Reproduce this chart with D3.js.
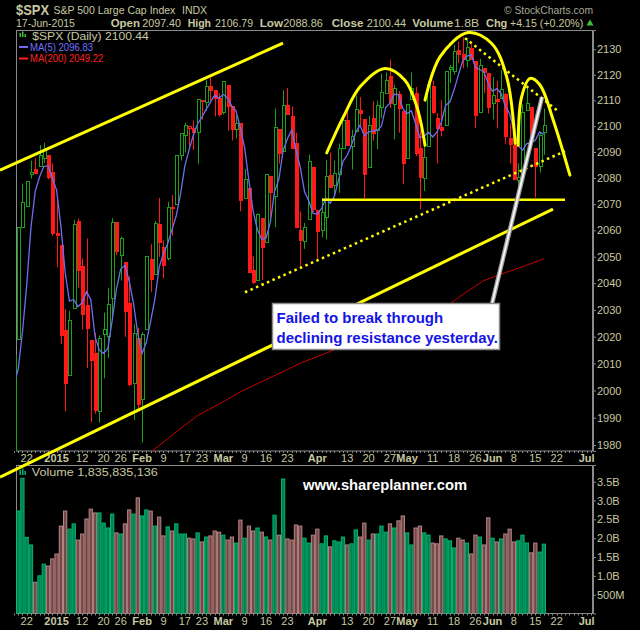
<!DOCTYPE html>
<html>
<head>
<meta charset="utf-8">
<script src="https://cdn.jsdelivr.net/npm/d3@7"></script>
<style>
  body { margin: 0; background: #000; }
  svg { display: block; }
  text { font-family: "Liberation Sans", Arial, sans-serif; }
</style>
</head>
<body>
<svg id="chart" width="640" height="630"></svg>
<script>
// trading days shown on the x axis (data runs to Jun 17, axis to Jul 2)
const calendar = [
  "2014-12-17","2014-12-18","2014-12-19","2014-12-22","2014-12-23","2014-12-24","2014-12-26","2014-12-29","2014-12-30","2014-12-31",
  "2015-01-02","2015-01-05","2015-01-06","2015-01-07","2015-01-08","2015-01-09","2015-01-12","2015-01-13","2015-01-14","2015-01-15",
  "2015-01-16","2015-01-20","2015-01-21","2015-01-22","2015-01-23","2015-01-26","2015-01-27","2015-01-28","2015-01-29","2015-01-30",
  "2015-02-02","2015-02-03","2015-02-04","2015-02-05","2015-02-06","2015-02-09","2015-02-10","2015-02-11","2015-02-12","2015-02-13",
  "2015-02-17","2015-02-18","2015-02-19","2015-02-20","2015-02-23","2015-02-24","2015-02-25","2015-02-26","2015-02-27",
  "2015-03-02","2015-03-03","2015-03-04","2015-03-05","2015-03-06","2015-03-09","2015-03-10","2015-03-11","2015-03-12","2015-03-13",
  "2015-03-16","2015-03-17","2015-03-18","2015-03-19","2015-03-20","2015-03-23","2015-03-24","2015-03-25","2015-03-26","2015-03-27",
  "2015-03-30","2015-03-31",
  "2015-04-01","2015-04-02","2015-04-06","2015-04-07","2015-04-08","2015-04-09","2015-04-10","2015-04-13","2015-04-14","2015-04-15",
  "2015-04-16","2015-04-17","2015-04-20","2015-04-21","2015-04-22","2015-04-23","2015-04-24","2015-04-27","2015-04-28","2015-04-29",
  "2015-04-30",
  "2015-05-01","2015-05-04","2015-05-05","2015-05-06","2015-05-07","2015-05-08","2015-05-11","2015-05-12","2015-05-13","2015-05-14",
  "2015-05-15","2015-05-18","2015-05-19","2015-05-20","2015-05-21","2015-05-22","2015-05-26","2015-05-27","2015-05-28","2015-05-29",
  "2015-06-01","2015-06-02","2015-06-03","2015-06-04","2015-06-05","2015-06-08","2015-06-09","2015-06-10","2015-06-11","2015-06-12",
  "2015-06-15","2015-06-16","2015-06-17","2015-06-18","2015-06-19","2015-06-22","2015-06-23","2015-06-24","2015-06-25","2015-06-26",
  "2015-06-29","2015-06-30","2015-07-01","2015-07-02"
]

// daily OHLC, Dec 17 2014 .. Jun 17 2015
const opens = [
  1973.77,2018.98,2061.04,2069.28,2081.48,2083.25,2084.30,2087.63,2088.49,2082.11,
  2058.90,2054.44,2022.15,2005.55,2030.61,2063.45,2046.13,2031.58,2018.40,2013.75,1992.25,2020.76,2020.19,2034.30,2062.98,2050.42,2047.86,2032.34,2002.45,2019.35,
  1996.67,2022.71,2048.86,2043.45,2062.28,2053.47,2049.38,2068.55,2069.98,2088.78,2096.47,2099.16,2099.25,2097.65,2109.83,2109.10,2115.30,2113.91,2110.88,
  2105.23,2115.76,2107.72,2098.54,2100.91,2072.25,2076.14,2044.69,2041.10,2064.56,2055.35,2080.59,2072.84,2098.69,2090.32,2107.99,2103.94,2093.10,2059.94,2055.78,2064.11,2084.05,
  2067.63,2060.03,2064.87,2080.79,2076.94,2081.29,2091.51,2102.03,2092.28,2097.82,2105.96,2102.58,2084.11,2102.82,2098.27,2107.21,2112.80,2119.29,2108.35,2112.49,2105.52,
  2087.38,2110.23,2112.63,2091.26,2079.96,2092.13,2115.56,2102.87,2099.62,2100.43,2122.07,2121.30,2129.45,2127.79,2125.55,2130.36,2125.34,2105.13,2122.27,2120.66,
  2108.64,2110.41,2110.64,2112.35,2095.09,2092.34,2079.07,2081.12,2106.24,2107.43,2091.34,2084.26,2097.40
]
const highs = [
  2016.75,2061.23,2077.85,2078.76,2086.73,2087.56,2092.70,2093.55,2088.49,2085.58,
  2072.36,2054.44,2030.25,2029.61,2064.08,2064.43,2049.30,2056.93,2018.40,2021.35,2020.46,2028.94,2038.29,2064.62,2062.98,2057.62,2047.86,2042.49,2024.64,2023.32,
  2021.66,2050.30,2054.74,2063.55,2072.40,2056.16,2070.86,2073.48,2088.53,2097.03,2101.30,2100.23,2102.13,2110.61,2110.05,2117.94,2119.59,2113.91,2112.74,
  2117.52,2115.76,2107.72,2104.25,2100.91,2083.49,2076.14,2050.08,2066.41,2064.56,2081.41,2080.59,2106.85,2098.69,2113.92,2114.86,2107.63,2097.43,2067.15,2062.83,2088.97,2084.05,
  2067.63,2072.17,2086.99,2089.81,2086.69,2093.31,2102.61,2107.65,2098.62,2111.91,2111.30,2102.58,2103.94,2109.64,2109.98,2120.49,2120.92,2125.92,2116.04,2113.65,2105.52,
  2108.41,2120.95,2115.24,2098.42,2092.90,2117.66,2117.69,2105.06,2110.19,2121.45,2123.89,2131.78,2133.02,2134.72,2134.28,2132.15,2125.34,2126.22,2122.27,2120.66,
  2119.15,2117.59,2121.92,2112.89,2100.99,2093.01,2085.62,2108.50,2115.02,2107.43,2091.34,2097.40,2106.79
]
const lows = [
  1973.77,2018.98,2061.03,2069.28,2079.77,2081.86,2084.30,2085.75,2079.53,2057.94,
  2046.04,2017.34,1992.44,2005.55,2030.61,2038.33,2022.58,2008.25,1988.44,1991.47,1988.12,2004.49,2012.04,2026.38,2050.54,2040.97,2019.91,2001.49,1989.18,1993.38,
  1980.90,2022.71,2036.72,2043.45,2049.97,2041.88,2048.62,2057.99,2069.98,2086.70,2089.80,2092.15,2090.79,2085.44,2102.54,2105.87,2109.89,2103.76,2103.75,
  2104.50,2098.26,2094.49,2095.22,2067.27,2072.21,2044.16,2039.69,2041.10,2041.17,2055.35,2065.08,2061.23,2085.56,2090.32,2104.42,2091.50,2061.05,2045.50,2052.96,2064.11,2067.04,
  2048.38,2057.32,2056.52,2076.10,2073.30,2074.29,2091.51,2092.33,2083.24,2097.82,2100.02,2072.37,2084.11,2094.38,2091.05,2103.19,2112.80,2107.04,2094.89,2097.41,2077.59,
  2087.38,2110.23,2088.46,2067.93,2074.99,2092.13,2104.58,2085.57,2096.04,2100.43,2116.81,2120.01,2124.50,2122.59,2122.95,2126.06,2099.18,2105.13,2112.86,2104.89,
  2102.54,2099.14,2110.64,2093.23,2085.67,2079.11,2072.14,2081.12,2106.24,2091.33,2072.49,2082.10,2088.86
]
const closes = [
  2012.89,2061.23,2070.65,2078.54,2082.17,2081.88,2088.77,2090.57,2080.35,2058.90,
  2058.20,2020.58,2002.61,2025.90,2062.14,2044.81,2028.26,2023.03,2011.27,1992.67,2019.42,2022.55,2032.12,2063.15,2051.82,2057.09,2029.55,2002.16,2021.25,1994.99,
  2020.85,2050.03,2041.51,2062.52,2055.47,2046.74,2068.59,2068.53,2088.48,2096.99,2100.34,2099.68,2097.45,2110.30,2109.66,2115.48,2113.86,2110.74,2104.50,
  2117.39,2107.78,2098.53,2101.04,2071.26,2079.43,2044.16,2040.24,2065.95,2053.40,2081.19,2074.28,2099.50,2089.27,2108.10,2104.42,2091.50,2061.05,2056.15,2061.02,2086.24,2067.89,
  2059.69,2066.96,2080.62,2076.33,2081.90,2091.18,2102.06,2092.43,2095.84,2106.63,2104.99,2081.18,2100.40,2097.29,2107.96,2112.93,2117.69,2108.92,2114.76,2106.85,2085.51,
  2108.29,2114.49,2089.46,2080.15,2088.00,2116.10,2105.33,2099.12,2098.48,2121.10,2122.73,2129.20,2127.83,2125.85,2130.82,2126.06,2104.20,2123.48,2120.79,2107.39,
  2111.73,2109.60,2114.07,2095.84,2092.83,2079.28,2080.15,2105.20,2108.86,2094.11,2084.43,2096.29,2100.44
]
// closes of Dec 11, 12, 15, 16 (needed for the first MA(5) values)
const priorCloses = [2035.33, 2002.33, 1989.63, 1972.74]

// volume in billions
const volumes = [
  2.30,2.72,3.59,2.02,1.82,0.83,1.00,1.31,1.26,1.45,
  1.58,2.32,2.72,2.24,2.38,1.95,2.11,2.51,2.77,2.67,2.67,2.40,2.27,2.64,2.14,2.11,2.38,2.75,2.64,3.07,
  2.59,2.75,2.72,2.32,2.56,2.06,2.30,2.19,2.38,2.11,2.11,2.00,1.98,2.14,1.90,2.03,2.06,2.19,2.16,
  2.08,1.95,2.03,1.87,2.48,2.00,2.32,2.19,2.27,2.16,2.03,1.95,2.61,2.08,3.57,1.98,1.95,2.35,2.32,2.00,1.87,2.08,
  2.24,1.85,2.06,1.77,1.93,1.90,2.03,1.82,1.85,2.22,2.03,2.40,1.95,2.11,2.11,2.32,2.16,2.38,2.27,2.46,2.59,
  2.14,1.82,2.27,2.32,2.14,2.08,1.87,1.85,2.06,1.98,1.93,1.74,2.00,1.95,1.87,1.58,2.08,2.03,1.82,2.54,
  2.00,1.90,1.98,2.11,2.24,1.90,1.93,2.08,1.87,1.61,1.87,1.63,1.84
]

// 200-day moving average
const ma200Dates = ["2015-01-28","2015-02-05","2015-02-12","2015-02-20","2015-02-27","2015-03-06","2015-03-13","2015-03-20","2015-03-26",
  "2015-04-06","2015-04-13","2015-04-20","2015-04-27","2015-05-04","2015-05-11","2015-05-15","2015-05-21","2015-05-28","2015-06-03","2015-06-10","2015-06-17"]
const ma200Vals = [1972.0,1978.6,1984.8,1990.8,1995.0,1999.5,2003.3,2007.0,2010.1,
  2013.8,2017.2,2020.1,2023.4,2026.6,2029.5,2032.2,2036.8,2041.0,2043.4,2046.2,2049.2]

// axis ticks
const xTickDates = ["2014-12-22","2015-01-02","2015-01-12","2015-01-20","2015-01-26","2015-02-02","2015-02-09","2015-02-17","2015-02-23",
  "2015-03-02","2015-03-09","2015-03-16","2015-03-23","2015-04-01","2015-04-13","2015-04-20","2015-04-27","2015-05-01","2015-05-11",
  "2015-05-18","2015-05-26","2015-06-01","2015-06-08","2015-06-15","2015-06-22","2015-07-01"]
const xTickLabels = ["22","2015","12","20","26","Feb","9","17","23","Mar","9","16","23","Apr","13","20","27","May","11","18","26","Jun","8","15","22","Jul"]
const priceTicks = [1980,1990,2000,2010,2020,2030,2040,2050,2060,2070,2080,2090,2100,2110,2120,2130]
const volTicks = [0.5,1.0,1.5,2.0,2.5,3.0,3.5]
const volTickLabels = ["500M","1.0B","1.5B","2.0B","2.5B","3.0B","3.5B"]

// hand-drawn annotations: [trading-day position, price]
const upperChannel = [[-3.24,2083.0],[62.97,2132.4]]
const lowerChannel = [[-3.24,1968.3],[126.14,2068.1]]
const supportLine = [[72.1,2071.7],[128.95,2071.7]]
const risingDots = [[54.08,2036.6],[128.95,2090.3]]
const fallingDots = [[105.55,2134.4],[127.08,2106.2]]
const arch1 = [[73.2,2089.7],[77.1,2103.6],[81.0,2115.3],[86.8,2122.5],[91.5,2117.9],[94.3,2107.5],[96.2,2092.6]]
const arch2 = [[96.2,2110.1],[99.7,2127.0],[106.3,2136.6],[111.8,2132.3],[115.3,2119.2],[117.3,2093.3]]
const arch3 = [[118.0,2092.6],[118.8,2111.4],[120.8,2118.6],[123.1,2116.0],[126.2,2102.3],[130.1,2081.1]]
const pointer = [[111.9,2032.5],[123.57,2111.3]]

const khaki = "#c8c8a0"
const upColor = "#1aa01a"
const downColor = "#ff1a1a"

const svg = d3.select("#chart")
svg.append("rect").attr("width", 640).attr("height", 630).attr("fill", "#000")

// scales
const x = d3.scaleBand().domain(calendar).range([11.72, 593]).padding(0)
const step = x.step()
const xc = d => x(d) + step / 2
const xAt = p => x(calendar[0]) + step * (p + 0.5)
const y = d3.scaleLog().domain([1977.8, 2137.6]).range([451, 30])
const yv = d3.scaleLinear().domain([0, 3.943]).range([613.5, 465])

// rows
const allCloses = priorCloses.concat(closes)
const days = closes.map((c, i) => ({
  date: calendar[i], o: opens[i], h: highs[i], l: lows[i], c: c, v: volumes[i],
  up: c >= allCloses[i + priorCloses.length - 1],
  ma5: d3.mean(allCloses.slice(i, i + 5))
}))

const defs = svg.append("defs")
defs.append("clipPath").attr("id", "clipMain")
  .append("rect").attr("x", 16).attr("y", 30).attr("width", 577).attr("height", 421)
defs.append("clipPath").attr("id", "clipVol")
  .append("rect").attr("x", 16).attr("y", 465).attr("width", 577).attr("height", 148.5)

// ---- header ----
svg.append("text").attr("x", 16).attr("y", 15).attr("fill", khaki)
  .attr("font-size", 14).attr("font-weight", "bold").attr("textLength", 33).attr("lengthAdjust", "spacingAndGlyphs").text("$SPX")
svg.append("text").attr("x", 53.5).attr("y", 14).attr("fill", khaki)
  .attr("font-size", 10.5).text("S&P 500 Large Cap Index")
svg.append("text").attr("x", 182).attr("y", 14).attr("fill", khaki)
  .attr("font-size", 10.5).text("INDX")
svg.append("text").attr("x", 16).attr("y", 26.5).attr("fill", khaki)
  .attr("font-size", 10.5).text("17-Jun-2015")
svg.append("text").attr("x", 504).attr("y", 13.5).attr("fill", "#a8a898")
  .attr("font-size", 11).attr("textLength", 89).attr("lengthAdjust", "spacingAndGlyphs").text("\u00a9 StockCharts.com")

const header = [
  ["Open", 110.7, true, 29.3], ["2097.40", 142.3, false, 38.7],
  ["High", 187.7, true, 23.3], ["2106.79", 215, false, 38],
  ["Low", 259.7, true, 23.3], ["2088.86", 283.3, false, 39.5],
  ["Close", 331.7, true, 31.7], ["2100.44", 366.7, false, 39.3],
  ["Volume", 412.3, true, 41], ["1.8B", 454, false, 25],
  ["Chg", 486, true, 21.3], ["+4.15 (+0.20%)", 510, false, 73.3]
]
svg.append("g").selectAll("text").data(header).join("text")
  .attr("x", d => d[1]).attr("y", 26.5).attr("fill", khaki)
  .attr("font-size", 11).attr("font-weight", d => d[2] ? "bold" : "normal")
  .attr("textLength", d => d[3]).attr("lengthAdjust", "spacingAndGlyphs")
  .text(d => d[0])
svg.append("path").attr("d", d3.symbol(d3.symbolTriangle, 22)())
  .attr("transform", "translate(590,23.5)").attr("fill", "#3cc03c")

// ---- main price panel ----
svg.append("rect").attr("x", 16.5).attr("y", 30.5).attr("width", 576).attr("height", 420.5)
  .attr("fill", "none").attr("stroke", "#8a8a8a")

const yAxis = svg.append("g").attr("transform", "translate(593,0)")
  .call(d3.axisRight(y).tickValues(priceTicks).tickSize(3).tickPadding(1).tickFormat(d3.format("d")))
yAxis.select(".domain").attr("stroke", "#8a8a8a")
yAxis.selectAll("line").attr("stroke", "#8a8a8a")
yAxis.selectAll("text").attr("fill", khaki).attr("font-size", 11).attr("font-family", "Liberation Sans, Arial, sans-serif")

// candles
const candle = svg.append("g").attr("clip-path", "url(#clipMain)")
  .selectAll("g").data(days).join("g")
candle.append("line")
  .attr("x1", d => Math.round(xc(d.date)) + 0.5).attr("x2", d => Math.round(xc(d.date)) + 0.5)
  .attr("y1", d => y(d.h)).attr("y2", d => y(d.l))
  .attr("stroke", d => d.up ? upColor : downColor)
candle.append("rect")
  .attr("x", d => Math.round(xc(d.date)) - 1)
  .attr("width", 3)
  .attr("y", d => y(Math.max(d.o, d.c)))
  .attr("height", d => Math.max(1, Math.abs(y(d.o) - y(d.c))))
  .attr("fill", d => d.c < d.o ? (d.up ? upColor : downColor) : "#000")
  .attr("stroke", d => d.up ? upColor : downColor)
  .attr("shape-rendering", "crispEdges")

// moving averages
svg.append("path").datum(days).attr("clip-path", "url(#clipMain)")
  .attr("fill", "none").attr("stroke", "#6e6ef0").attr("stroke-width", 1.3)
  .attr("d", d3.line().x(d => xc(d.date)).y(d => y(d.ma5)))
svg.append("path").datum(ma200Dates.map((d, i) => [d, ma200Vals[i]])).attr("clip-path", "url(#clipMain)")
  .attr("fill", "none").attr("stroke", "#c80000").attr("stroke-width", 1)
  .attr("d", d3.line().x(d => xc(d[0])).y(d => y(d[1])))

// legend
const leg = svg.append("g")
leg.selectAll("rect.icon").data([[19.5, 33, 4], [22, 31.5, 5.5], [24.5, 34, 3]]).join("rect")
  .attr("x", d => d[0]).attr("y", d => d[1]).attr("width", 1.5).attr("height", d => d[2]).attr("fill", "#3cc03c")
leg.append("text").attr("x", 32.3).attr("y", 39.5).attr("fill", khaki).attr("font-size", 11)
  .attr("textLength", 116.5).attr("lengthAdjust", "spacingAndGlyphs").text("$SPX (Daily) 2100.44")
leg.append("line").attr("x1", 19).attr("x2", 28).attr("y1", 47).attr("y2", 47).attr("stroke", "#6e6ef0").attr("stroke-width", 2)
leg.append("text").attr("x", 30).attr("y", 50.7).attr("fill", "#7070ff").attr("font-size", 10.5)
  .attr("textLength", 63).attr("lengthAdjust", "spacingAndGlyphs").text("MA(5) 2096.83")
leg.append("line").attr("x1", 19).attr("x2", 28).attr("y1", 58.5).attr("y2", 58.5).attr("stroke", "#ff2020").attr("stroke-width", 2)
leg.append("text").attr("x", 30).attr("y", 62.3).attr("fill", "#ff2020").attr("font-size", 10.5)
  .attr("textLength", 73.3).attr("lengthAdjust", "spacingAndGlyphs").text("MA(200) 2049.22")

// x axis under a panel
function dateAxis(yPos, off) {
  const g = svg.append("g").attr("transform", `translate(0,${yPos})`)
    .call(d3.axisBottom(x).tickValues(xTickDates).tickSize(0).tickPadding(off)
      .tickFormat((d, i) => xTickLabels[i]))
  g.select(".domain").remove()
  g.selectAll("text").attr("fill", khaki).attr("font-size", 11)
    .attr("font-family", "Liberation Sans, Arial, sans-serif")
    .attr("font-weight", (d, i) => /^\d{1,2}$/.test(xTickLabels[i]) ? "normal" : "bold")
  // small day ticks along the panel edge
  svg.append("g").selectAll("line").data(calendar).join("line")
    .attr("x1", d => Math.round(xc(d)) + 0.5).attr("x2", d => Math.round(xc(d)) + 0.5)
    .attr("y1", yPos).attr("y2", yPos + 2).attr("stroke", "#8a8a8a")
}
dateAxis(451, 2.8)

// ---- volume panel ----
svg.append("rect").attr("x", 16.5).attr("y", 465.5).attr("width", 576).attr("height", 148)
  .attr("fill", "none").attr("stroke", "#8a8a8a")
svg.append("g").attr("clip-path", "url(#clipVol)")
  .selectAll("rect").data(days).join("rect")
  .attr("x", d => x(d.date) + 0.5).attr("width", step - 1)
  .attr("y", d => yv(d.v)).attr("height", d => yv(0) - yv(d.v))
  .attr("fill", d => d.up ? "#007f52" : "#754848")
  .attr("stroke", d => d.up ? "#00b870" : "#b58585").attr("stroke-width", 1)

const vAxis = svg.append("g").attr("transform", "translate(593,0)")
  .call(d3.axisRight(yv).tickValues(volTicks).tickSize(3).tickPadding(1).tickFormat((d, i) => volTickLabels[i]))
vAxis.select(".domain").attr("stroke", "#8a8a8a")
vAxis.selectAll("line").attr("stroke", "#8a8a8a")
vAxis.selectAll("text").attr("fill", khaki).attr("font-size", 11).attr("font-family", "Liberation Sans, Arial, sans-serif")

svg.append("g").selectAll("rect").data([[19.5, 470, 5], [22, 468.5, 6.5], [24.5, 471, 4]]).join("rect")
  .attr("x", d => d[0]).attr("y", d => d[1]).attr("width", 1.5).attr("height", d => d[2]).attr("fill", "#00b870")
svg.append("text").attr("x", 31.7).attr("y", 476).attr("fill", khaki).attr("font-size", 11)
  .attr("textLength", 126).attr("lengthAdjust", "spacingAndGlyphs").text("Volume 1,835,835,136")

dateAxis(613.5, 3.2)

svg.append("text").attr("x", 303).attr("y", 490).attr("fill", "#fff")
  .attr("font-size", 15).attr("font-weight", "bold").attr("textLength", 164).attr("lengthAdjust", "spacingAndGlyphs")
  .text("www.shareplanner.com")

// ---- annotations ----
const seg = d3.line().x(d => xAt(d[0])).y(d => y(d[1]))
const arc = d3.line().x(d => xAt(d[0])).y(d => y(d[1])).curve(d3.curveCatmullRom.alpha(0.5))
const yellow = "#ffff00"
const ann = svg.append("g").attr("fill", "none")
;[upperChannel, lowerChannel].forEach(l =>
  ann.append("path").attr("d", seg(l)).attr("stroke", yellow).attr("stroke-width", 3))
ann.append("path").attr("d", seg(supportLine)).attr("stroke", yellow).attr("stroke-width", 2.5)
;[risingDots, fallingDots].forEach(l =>
  ann.append("path").attr("d", seg(l)).attr("stroke", yellow).attr("stroke-width", 2.5).attr("stroke-dasharray", "2.5 3.5"))
;[arch1, arch2, arch3].forEach(l =>
  ann.append("path").attr("d", arc(l)).attr("stroke", yellow).attr("stroke-width", 3).attr("stroke-linecap", "round"))

ann.append("path").attr("d", seg(pointer)).attr("stroke", "#9a9a9a").attr("stroke-width", 4.5)
ann.append("path").attr("d", seg(pointer)).attr("stroke", "#f4f4f4").attr("stroke-width", 2)

svg.append("rect").attr("x", 272.5).attr("y", 303.5).attr("width", 227).attr("height", 46)
  .attr("fill", "#fff").attr("stroke", "#8a8a8a").attr("stroke-width", 1.5)
svg.append("text").attr("x", 276.5).attr("y", 323.3).attr("fill", "#1414e6")
  .attr("font-size", 15).attr("font-weight", "bold").text("Failed to break through")
svg.append("text").attr("x", 276.5).attr("y", 343.3).attr("fill", "#1414e6")
  .attr("font-size", 15).attr("font-weight", "bold").text("declining resistance yesterday.")
</script>
</body>
</html>
